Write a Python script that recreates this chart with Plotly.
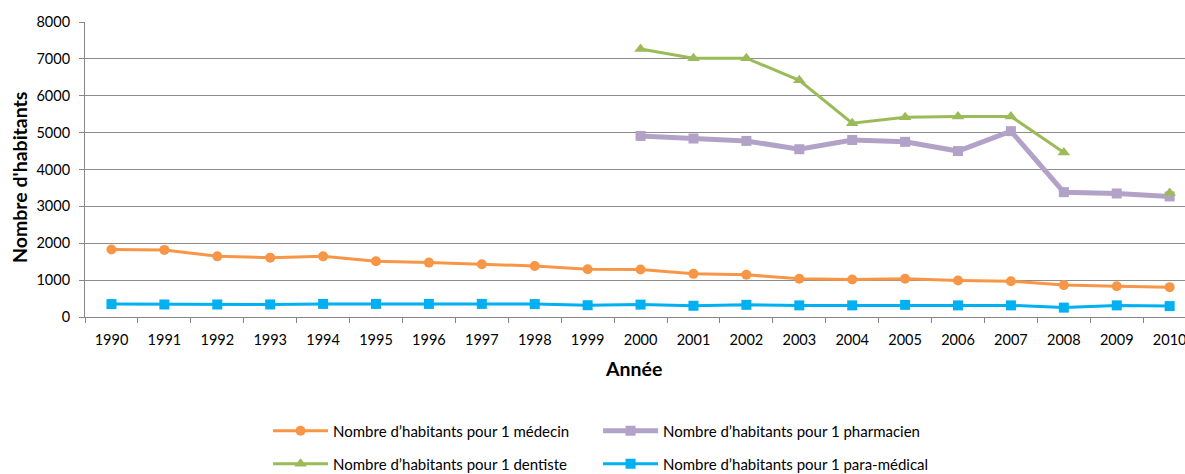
import plotly.graph_objects as go

years = [str(y) for y in range(1990, 2011)]
medecin = [1830, 1820, 1645, 1610, 1645, 1510, 1475, 1430, 1385, 1295,
           1290, 1170, 1145, 1035, 1015, 1035, 990, 970, 865, 835, 810]
pharmacien = [None] * 10 + [4910, 4840, 4775, 4550, 4800, 4750, 4500, 5040, 3385, 3350, 3270]
dentiste = [None] * 10 + [7270, 7020, 7020, 6420, 5255, 5420, 5440, 5440, 4460, None, 3360]
paramedical = [350, 340, 340, 340, 355, 355, 355, 355, 350, 320,
               336, 305, 330, 315, 315, 330, 315, 315, 255, 315, 295]

names = {
    "med": "Nombre d\u2019habitants pour 1 médecin",
    "pha": "Nombre d\u2019habitants pour 1 pharmacien",
    "den": "Nombre d\u2019habitants pour 1 dentiste",
    "par": "Nombre d\u2019habitants pour 1 para-médical",
}
y_title = "Nombre d'habitants"
x_title = "Année"

FONT = "Lato"
fig = go.Figure()
fig.add_trace(go.Scatter(x=years, y=medecin, name=names["med"], mode="lines+markers",
                         line=dict(color="#F79646", width=3),
                         marker=dict(symbol="circle", size=10, color="#F79646"),
                         legend="legend"))
fig.add_trace(go.Scatter(x=years, y=pharmacien, name=names["pha"], mode="lines+markers",
                         line=dict(color="#B3A2C7", width=5),
                         marker=dict(symbol="square", size=10, color="#B3A2C7"),
                         legend="legend"))
fig.add_trace(go.Scatter(x=years, y=dentiste, name=names["den"], mode="lines+markers",
                         line=dict(color="#9BBB59", width=3),
                         marker=dict(symbol="triangle-up", size=11, color="#9BBB59"),
                         connectgaps=False, legend="legend2"))
fig.add_trace(go.Scatter(x=years, y=paramedical, name=names["par"], mode="lines+markers",
                         line=dict(color="#00B0F0", width=3),
                         marker=dict(symbol="square", size=10, color="#00B0F0"),
                         legend="legend2"))

legend_common = dict(orientation="h", xanchor="left", yanchor="middle",
                     xref="container", yref="container",
                     entrywidth=260, itemwidth=55, bgcolor="rgba(0,0,0,0)",
                     font=dict(family=FONT, size=15, color="#000000"))

fig.update_layout(
    width=1185, height=474,
    margin=dict(l=85, r=0, t=22, b=157),
    paper_bgcolor="white", plot_bgcolor="white",
    font=dict(family=FONT, size=14.5, color="#000000"),
    legend=dict(x=0.2262, y=0.0907, **legend_common),
    legend2=dict(x=0.2262, y=0.0211, **legend_common),
    xaxis=dict(type="category", range=[-0.5, 20.29], tickson="boundaries",
               ticks="outside", ticklen=5, tickcolor="#868686",
               showline=True, linecolor="#868686", linewidth=1,
               showgrid=False, automargin=False, ticklabelstandoff=10,
               tickfont=dict(family=FONT, size=14.5)),
    yaxis=dict(range=[0, 8000], dtick=1000, ticks="outside", ticklen=5,
               tickcolor="#868686", showline=True, linecolor="#868686", linewidth=1,
               showgrid=True, gridcolor="#8C8C8C", gridwidth=1, zeroline=False,
               automargin=False, ticklabelstandoff=6,
               tickfont=dict(family=FONT, size=14.5)),
    annotations=[
        dict(text="<b>" + y_title + "</b>", xref="paper", yref="paper",
             x=-0.0591, y=0.4746, textangle=-90, showarrow=False,
             xanchor="center", yanchor="middle",
             font=dict(family=FONT, size=19.5, color="#000000")),
        dict(text="<b>" + x_title + "</b>", xref="paper", yref="paper",
             x=0.499, y=-0.173, showarrow=False,
             xanchor="center", yanchor="middle",
             font=dict(family=FONT, size=19.5, color="#000000")),
    ],
)

fig.write_html("out.html", config={"displayModeBar": False},
               post_script="document.body.style.margin='0';document.body.style.overflow='hidden';")
